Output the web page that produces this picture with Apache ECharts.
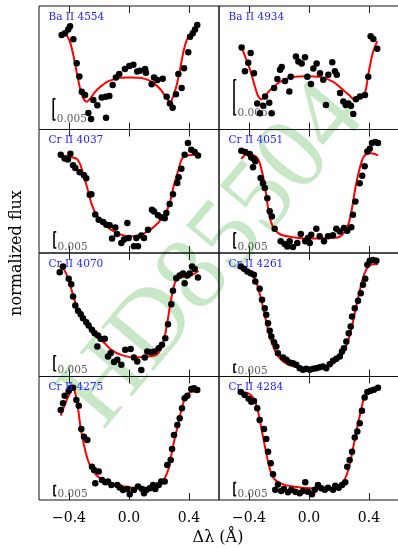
<!DOCTYPE html>
<html><head><meta charset="utf-8">
<script src="https://cdn.jsdelivr.net/npm/echarts@6/dist/echarts.min.js"></script>
<style>html,body{margin:0;padding:0;background:#fff}#c{width:398px;height:548px}</style>
</head><body><div id="c"></div><script>
// Panel names
const panelNames = ['Ba II 4554','Ba II 4934','Cr II 4037','Cr II 4051','Cr II 4070','Cr II 4261','Cr II 4275','Cr II 4284'];
// x axis (Δλ, Å)
const xTicks = [-0.4, 0, 0.4];
const xTickLabels = ['\u22120.4', '0.0', '0.4'];
// y: flux above panel floor, in units of 1e-3 (normalized flux)
const yMax = [29.4, 17.6, 38.6, 41.2, 41.2, 77.2, 61.8, 47.5];
const scaleBarLen = 5;          // 0.005 in 1e-3 units
const scaleBarLabel = '0.005';
const scaleBarX = [-0.505, -0.5, -0.5, -0.5, -0.5, -0.5, -0.5, -0.5];
const scaleBarBottom = [2.3, 2.1, 1.6, 1.7, 1.9, 2.7, 2.2, 1.7];

const ba4554Obs = [[-0.449,22.5],[-0.427,22.9],[-0.405,23.8],[-0.393,24.6],[-0.371,21.5],[-0.349,15.8],[-0.331,12.6],[-0.315,9.0],[-0.293,8.2],[-0.271,3.9],[-0.253,2.5],[-0.238,7.0],[-0.211,5.8],[-0.182,7.6],[-0.153,2.8],[-0.155,7.8],[-0.131,8.0],[-0.109,10.6],[-0.087,12.4],[-0.065,13.2],[-0.027,14.4],[0.002,15.1],[0.029,15.4],[0.055,13.8],[0.073,14.0],[0.107,14.4],[0.113,13.5],[0.151,10.8],[0.167,12.4],[0.189,11.8],[0.225,12.1],[0.251,7.8],[0.273,6.2],[0.291,5.2],[0.313,8.4],[0.329,13.2],[0.351,9.9],[0.367,14.6],[0.395,18.4],[0.407,22.1],[0.425,22.9],[0.44,23.8],[0.455,24.9]];
const ba4554Fit = [[-0.449,22.5],[-0.415,22.3],[-0.393,20.8],[-0.371,17.7],[-0.349,13.7],[-0.327,9.9],[-0.305,7.5],[-0.282,6.6],[-0.26,7.3],[-0.227,8.9],[-0.193,10.1],[-0.149,11.3],[-0.105,11.9],[-0.06,12.3],[0.007,12.4],[0.073,12.3],[0.127,11.8],[0.173,10.8],[0.213,9.4],[0.247,7.7],[0.273,6.6],[0.293,7.7],[0.318,10.6],[0.34,14.2],[0.362,18.4],[0.385,21.3],[0.407,22.5],[0.451,23.9]];

const ba4934Obs = [[-0.449,11.7],[-0.389,10.9],[-0.405,9.5],[-0.427,8.3],[-0.367,8.0],[-0.345,3.7],[-0.327,2.3],[-0.305,3.4],[-0.293,4.7],[-0.265,3.8],[-0.249,2.3],[-0.233,5.9],[-0.211,7.2],[-0.193,8.5],[-0.182,8.9],[-0.16,6.9],[-0.131,5.4],[-0.122,7.5],[-0.087,10.4],[-0.071,9.7],[-0.049,9.4],[-0.027,10.3],[-0.011,7.5],[0.013,6.5],[0.029,8.7],[0.051,9.4],[0.073,8.0],[0.095,7.1],[0.113,3.5],[0.129,7.8],[0.155,9.6],[0.173,8.3],[0.185,7.8],[0.207,5.2],[0.229,4.0],[0.245,3.5],[0.262,3.7],[0.28,3.4],[0.295,2.2],[0.313,4.3],[0.34,4.7],[0.373,4.9],[0.395,7.5],[0.411,13.3],[0.429,12.9],[0.455,11.5]];
const ba4934Fit = [[-0.449,11.7],[-0.393,8.5],[-0.36,6.1],[-0.338,4.7],[-0.315,4.3],[-0.293,4.8],[-0.26,5.6],[-0.193,6.8],[-0.105,7.5],[-0.015,7.6],[0.073,7.5],[0.162,6.8],[0.229,5.6],[0.273,4.8],[0.3,4.3],[0.34,4.5],[0.373,5.2],[0.395,7.8],[0.425,10.9],[0.455,12.6]];

const cr4037Obs = [[-0.455,30.7],[-0.429,29.5],[-0.391,31.0],[-0.407,29.2],[-0.373,27.4],[-0.358,26.6],[-0.329,25.2],[-0.3,24.3],[-0.285,23.4],[-0.262,18.2],[-0.251,18.4],[-0.225,12.0],[-0.202,10.4],[-0.173,9.7],[-0.151,8.8],[-0.129,8.7],[-0.091,8.0],[-0.08,5.9],[-0.113,4.5],[-0.051,3.1],[-0.033,4.2],[-0.011,9.4],[-0.002,4.7],[0.033,2.1],[0.049,4.7],[0.06,2.1],[0.082,5.5],[0.1,4.7],[0.127,7.3],[0.153,13.5],[0.167,13.0],[0.193,11.8],[0.215,11.2],[0.238,10.9],[0.249,12.5],[0.271,15.3],[0.293,18.4],[0.322,21.9],[0.331,23.7],[0.349,26.3],[0.371,30.7],[0.393,34.4],[0.415,32.3],[0.438,31.6],[0.46,30.5]];
const cr4037Fit = [[-0.455,30.5],[-0.385,29.9],[-0.351,29.5],[-0.329,28.1],[-0.307,25.0],[-0.278,20.3],[-0.251,15.6],[-0.218,12.0],[-0.162,8.8],[-0.095,6.6],[-0.007,5.2],[0.06,5.5],[0.127,6.8],[0.193,9.4],[0.238,12.0],[0.271,15.6],[0.3,21.3],[0.327,25.5],[0.353,29.5],[0.382,30.5],[0.455,30.7]];

const cr4051Obs = [[-0.451,34.1],[-0.425,33.7],[-0.395,33.0],[-0.385,31.9],[-0.367,31.4],[-0.358,30.6],[-0.373,28.6],[-0.322,25.0],[-0.307,23.3],[-0.295,21.7],[-0.278,18.3],[-0.262,13.9],[-0.247,12.2],[-0.229,8.1],[-0.189,3.9],[-0.162,3.0],[-0.145,2.2],[-0.129,3.9],[-0.107,2.0],[-0.078,3.3],[-0.055,6.3],[-0.025,3.9],[-0.007,5.0],[0.005,3.3],[0.015,6.1],[0.049,8.1],[0.071,5.6],[0.1,3.9],[0.127,5.6],[0.16,5.9],[0.182,8.1],[0.205,7.2],[0.233,8.3],[0.255,7.4],[0.282,8.6],[0.293,12.8],[0.309,17.2],[0.338,23.3],[0.355,25.8],[0.371,28.9],[0.389,33.9],[0.405,34.8],[0.42,36.7],[0.442,37.0],[0.46,36.7]];
const cr4051Fit = [[-0.451,31.4],[-0.418,32.8],[-0.385,32.8],[-0.345,31.7],[-0.322,28.9],[-0.295,22.8],[-0.273,15.0],[-0.255,10.6],[-0.229,7.8],[-0.185,6.1],[-0.095,5.2],[0.015,4.8],[0.127,5.0],[0.193,5.2],[0.233,6.7],[0.265,10.0],[0.287,15.0],[0.309,21.7],[0.338,28.3],[0.36,31.7],[0.382,33.0],[0.415,33.3],[0.46,32.6]];

const cr4070Obs = [[-0.462,34.8],[-0.44,36.7],[-0.402,32.6],[-0.385,30.8],[-0.373,26.7],[-0.358,23.7],[-0.34,21.9],[-0.322,20.8],[-0.307,19.4],[-0.285,18.1],[-0.269,17.0],[-0.247,15.6],[-0.229,14.4],[-0.207,13.7],[-0.189,12.6],[-0.162,12.6],[-0.211,10.0],[-0.14,6.7],[-0.122,7.8],[-0.1,4.8],[-0.078,5.6],[-0.051,3.9],[-0.025,8.9],[0.011,9.2],[0.033,6.3],[0.055,5.0],[0.082,2.2],[0.105,6.3],[0.122,8.3],[0.145,8.1],[0.171,8.3],[0.198,9.4],[0.22,10.6],[0.242,12.8],[0.26,17.4],[0.282,24.1],[0.293,28.6],[0.315,32.8],[0.338,33.7],[0.36,34.4],[0.371,31.1],[0.389,33.7],[0.405,34.4],[0.42,36.7],[0.438,35.9],[0.46,33.0]];
const cr4070Fit = [[-0.462,36.7],[-0.433,35.6],[-0.407,32.8],[-0.373,27.2],[-0.34,22.2],[-0.295,18.3],[-0.251,15.0],[-0.207,13.0],[-0.162,11.1],[-0.118,8.9],[-0.051,7.2],[0.038,6.3],[0.127,6.7],[0.182,7.2],[0.215,9.4],[0.238,13.3],[0.26,19.4],[0.282,26.1],[0.305,31.1],[0.327,32.7],[0.371,33.3],[0.415,33.8],[0.465,35.2]];

const cr4261Obs = [[-0.455,68.8],[-0.433,67.3],[-0.411,65.6],[-0.389,64.6],[-0.367,63.6],[-0.358,59.4],[-0.329,54.8],[-0.313,47.9],[-0.295,42.7],[-0.285,38.6],[-0.273,33.3],[-0.262,28.6],[-0.251,25.0],[-0.233,21.4],[-0.218,18.8],[-0.207,14.6],[-0.173,11.9],[-0.151,10.4],[-0.129,8.8],[-0.107,8.3],[-0.085,7.3],[-0.062,5.2],[-0.04,4.2],[-0.018,4.8],[0.005,4.2],[0.027,4.8],[0.049,5.2],[0.071,5.8],[0.093,6.3],[0.115,5.2],[0.138,7.7],[0.16,9.8],[0.182,11.1],[0.205,12.5],[0.22,15.6],[0.233,17.7],[0.249,21.9],[0.265,27.1],[0.278,31.3],[0.287,37.5],[0.305,42.7],[0.327,47.3],[0.345,52.1],[0.36,57.3],[0.375,61.1],[0.389,69.8],[0.405,72.3],[0.427,72.9],[0.449,72.3]];
const cr4261Fit = [[-0.455,68.1],[-0.407,66.1],[-0.373,63.1],[-0.345,57.3],[-0.318,47.9],[-0.295,38.6],[-0.273,29.2],[-0.247,20.8],[-0.218,14.6],[-0.173,9.4],[-0.118,6.7],[-0.051,5.2],[0.015,4.8],[0.082,5.2],[0.138,6.7],[0.193,10.4],[0.227,14.6],[0.255,20.8],[0.278,28.1],[0.3,37.5],[0.322,46.9],[0.345,56.3],[0.371,64.6],[0.405,69.8],[0.438,70.2],[0.46,70.2]];

const cr4275Obs = [[-0.455,45.0],[-0.44,48.4],[-0.429,52.2],[-0.402,54.5],[-0.389,55.9],[-0.373,56.2],[-0.351,50.0],[-0.335,47.2],[-0.318,35.5],[-0.3,31.7],[-0.278,30.0],[-0.247,16.7],[-0.233,15.0],[-0.225,8.4],[-0.202,14.2],[-0.18,10.0],[-0.158,8.9],[-0.14,9.2],[-0.118,7.5],[-0.078,7.5],[-0.062,6.2],[-0.04,5.0],[-0.011,5.5],[0.005,2.9],[0.033,5.0],[0.06,6.7],[0.087,5.5],[0.1,3.4],[0.115,5.0],[0.138,5.9],[0.16,7.5],[0.175,5.5],[0.198,7.5],[0.215,9.2],[0.238,9.2],[0.255,17.5],[0.278,20.0],[0.287,25.5],[0.3,32.5],[0.322,37.5],[0.338,40.9],[0.353,45.9],[0.371,50.9],[0.389,52.2],[0.415,55.5],[0.433,55.9],[0.455,55.0]];
const cr4275Fit = [[-0.455,42.2],[-0.429,47.5],[-0.395,53.4],[-0.373,55.5],[-0.358,53.4],[-0.34,45.9],[-0.322,35.9],[-0.3,27.5],[-0.278,20.9],[-0.251,15.9],[-0.207,11.7],[-0.14,9.2],[-0.073,7.5],[0.015,6.2],[0.105,5.5],[0.16,6.2],[0.205,7.9],[0.238,10.9],[0.265,15.9],[0.282,22.5],[0.305,30.9],[0.327,37.5],[0.349,45.0],[0.371,50.5],[0.398,53.4],[0.427,54.2],[0.46,54.2]];

const cr4284Obs = [[-0.455,41.5],[-0.429,40.4],[-0.402,38.9],[-0.385,37.8],[-0.367,38.1],[-0.345,35.3],[-0.329,30.8],[-0.3,27.3],[-0.285,23.5],[-0.273,18.6],[-0.255,14.1],[-0.24,9.9],[-0.225,3.9],[-0.207,6.0],[-0.185,3.5],[-0.167,4.2],[-0.14,3.0],[-0.118,3.9],[-0.091,3.2],[-0.062,2.6],[-0.04,3.5],[-0.025,6.8],[-0.007,3.2],[0.02,2.2],[0.038,3.9],[0.06,5.8],[0.082,4.5],[0.105,3.9],[0.127,4.7],[0.16,3.9],[0.175,5.5],[0.198,4.7],[0.22,5.8],[0.242,6.8],[0.255,12.8],[0.271,15.4],[0.287,18.6],[0.305,24.0],[0.322,26.3],[0.338,29.5],[0.353,34.3],[0.371,39.4],[0.389,41.5],[0.411,42.0],[0.433,42.4],[0.46,43.2]];
const cr4284Fit = [[-0.455,41.5],[-0.407,41.1],[-0.373,39.4],[-0.345,35.3],[-0.322,28.9],[-0.3,22.4],[-0.278,16.1],[-0.255,10.9],[-0.225,7.7],[-0.162,5.8],[-0.073,4.9],[0.015,4.5],[0.105,4.5],[0.182,5.1],[0.227,7.0],[0.255,10.3],[0.278,15.4],[0.3,21.8],[0.322,28.2],[0.345,34.0],[0.367,39.2],[0.393,41.5],[0.427,42.0],[0.46,42.4]];

const observed = [ba4554Obs, ba4934Obs, cr4037Obs, cr4051Obs, cr4070Obs, cr4261Obs, cr4275Obs, cr4284Obs];
const fitted = [ba4554Fit, ba4934Fit, cr4037Fit, cr4051Fit, cr4070Fit, cr4261Fit, cr4275Fit, cr4284Fit];

const chart = echarts.init(document.getElementById('c'), null, {renderer: 'canvas'});
const PL = 39, PT = 6, PW = 180, PH = 123.5;
const grids = [], xAxes = [], yAxes = [], series = [], graphics = [];

graphics.push({type: 'text', x: 214, y: 256, rotation: 50 * Math.PI / 180, z: -10, silent: true,
  style: {text: 'HD85504', font: '104px "Liberation Serif"', fill: 'rgba(70,175,70,0.3)', textAlign: 'center', textVerticalAlign: 'middle'}});

function tickLabel(v) {
  for (let k = 0; k < xTicks.length; k++) if (Math.abs(v - xTicks[k]) < 1e-6) return xTickLabels[k];
  return '';
}

for (let i = 0; i < 8; i++) {
  const col = i % 2, row = Math.floor(i / 2);
  const left = PL + col * PW, top = PT + row * PH;
  grids.push({left: left, top: top, width: PW, height: PH, show: true, borderColor: '#111', borderWidth: 1, backgroundColor: 'transparent', containLabel: false, outerBoundsMode: 'none'});
  const baseX = {type: 'value', gridIndex: i, min: -0.6, max: 0.6, splitLine: {show: false}, axisLine: {show: false},
    axisTick: {show: true, inside: true, length: 7, customValues: xTicks, lineStyle: {color: '#222', width: 1}}};
  xAxes.push(Object.assign({}, baseX, {position: 'bottom',
    axisLabel: {show: row === 3, customValues: xTicks, formatter: tickLabel, margin: 11, fontFamily: 'DejaVu Serif', fontSize: 14, color: '#000'}}));
  xAxes.push(Object.assign({}, baseX, {position: 'top', axisLabel: {show: false}}));
  yAxes.push({type: 'value', gridIndex: i, min: 0, max: yMax[i], show: false, splitLine: {show: false}});

  series.push({type: 'line', xAxisIndex: 2 * i, yAxisIndex: i, data: fitted[i], smooth: 0.3, symbol: 'none', z: 3,
    lineStyle: {color: '#ff0000', width: 2}, silent: true, animation: false});
  series.push({type: 'scatter', xAxisIndex: 2 * i, yAxisIndex: i, data: observed[i], symbolSize: 6.5, z: 4,
    itemStyle: {color: '#000', opacity: 1}, silent: true, animation: false});
  const bx = scaleBarX[i], bb = scaleBarBottom[i];
  series.push({type: 'line', xAxisIndex: 2 * i, yAxisIndex: i, symbol: 'none', z: 5, animation: false, silent: true,
    data: [[bx + 0.015, bb + scaleBarLen], [bx, bb + scaleBarLen], [bx, bb], [bx + 0.015, bb]],
    lineStyle: {color: '#000', width: 1.6}});
  series.push({type: 'scatter', xAxisIndex: 2 * i, yAxisIndex: i, symbolSize: 1, z: 5, animation: false, silent: true,
    data: [[bx, bb]], itemStyle: {color: 'rgba(0,0,0,0)'},
    label: {show: true, formatter: scaleBarLabel, position: 'right', distance: 3, offset: [0, -1], fontFamily: 'DejaVu Serif', fontSize: 10.5, color: '#333'}});

  graphics.push({type: 'text', x: left + 9.5, y: top + 11, silent: true, z: 10,
    style: {text: panelNames[i], font: '10.5px "DejaVu Serif"', fill: '#2323ff', textAlign: 'left', textVerticalAlign: 'middle'}});
}

graphics.push({type: 'text', x: 17, y: 253, rotation: Math.PI / 2, silent: true,
  style: {text: 'normalized flux', font: '16px "DejaVu Serif"', fill: '#000', textAlign: 'center', textVerticalAlign: 'middle'}});
graphics.push({type: 'text', x: 218, y: 538, silent: true,
  style: {text: 'Δλ (Å)', font: '16px "DejaVu Serif"', fill: '#000', textAlign: 'center', textVerticalAlign: 'middle'}});

chart.setOption({
  animation: false,
  backgroundColor: '#fff',
  grid: grids, xAxis: xAxes, yAxis: yAxes, series: series,
  graphic: {elements: graphics}
});
</script></body></html>
